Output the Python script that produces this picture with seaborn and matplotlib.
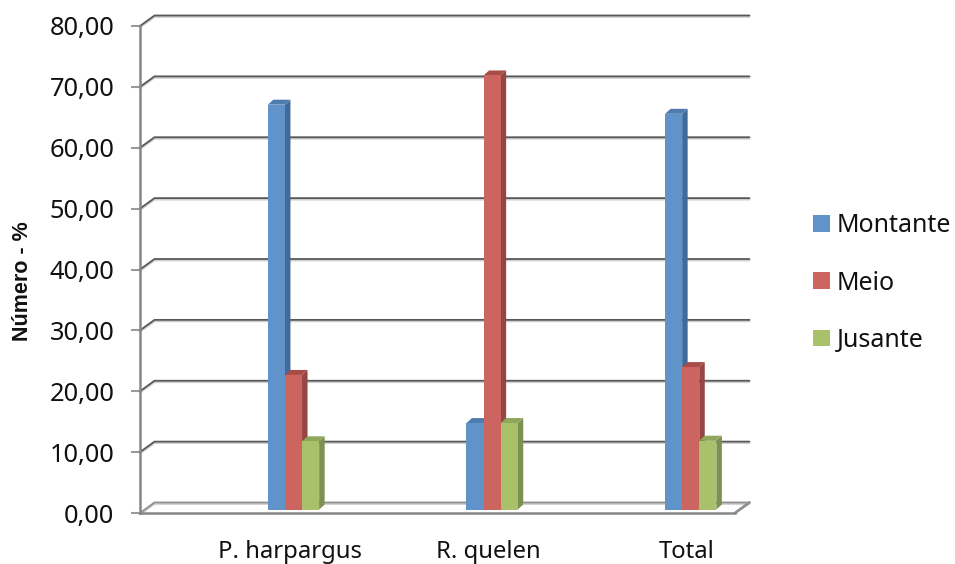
import pandas as pd
import matplotlib
matplotlib.use("Agg")
import matplotlib.pyplot as plt
from matplotlib.patches import Polygon
from matplotlib.transforms import ScaledTranslation
import seaborn as sns

# --- data ---
species = ['P. harpargus', 'R. quelen', 'Total']
zones = ['Montante', 'Meio', 'Jusante']
montante = [66.5, 14.2, 65.0]
meio = [22.1, 71.3, 23.4]
jusante = [11.2, 14.2, 11.3]
y_ticks = [0, 10, 20, 30, 40, 50, 60, 70, 80]

# front, side, top shades per series
FRONT = ['#5F93C9', '#CC6560', '#A9C16B']
SIDE = ['#3F6A9A', '#954543', '#7C9150']
TOP = ['#4F7CAF', '#A84C48', '#8FA75A']

W, H = 955, 564
X0, X1 = 140, 735      # front of the floor, px
Y0, Y80 = 513, 26      # value 0 and value 80, px
GROUP0, GROUP_STEP = 293.5, 198.6

sns.set_style('white')
plt.rcParams['font.family'] = ['Noto Sans', 'DejaVu Sans']

df = pd.DataFrame({
    'especie': species * 3,
    'zona': [z for z in zones for _ in species],
    'valor': montante + meio + jusante,
})

fig = plt.figure(figsize=(W / 100, H / 100), dpi=100)
ax = fig.add_axes([X0 / W, 1 - Y0 / H, (X1 - X0) / W, (Y0 - Y80) / H])
sns.barplot(data=df, x='especie', y='valor', hue='zona', hue_order=zones,
            order=species, palette=FRONT, width=51.3 / GROUP_STEP, gap=0,
            saturation=1, errorbar=None, linewidth=0, ax=ax)

xmin = -(GROUP0 - X0) / GROUP_STEP
xmax = (X1 - GROUP0) / GROUP_STEP
ax.set_xlim(xmin, xmax)
ax.set_ylim(0, 80)
px_y = 80 / (Y0 - Y80)
px_x = 1 / GROUP_STEP

# back wall and floor of the 3D box
wall_dx, wall_dy = 14.5 * px_x, 10.5 * px_y
for v in y_ticks:
    line_col = '#8f8f8f' if v == 0 else '#585858'
    xs = [xmin, xmin + wall_dx, xmax + wall_dx]
    ys = [v, v + wall_dy, v + wall_dy]
    ax.plot(xs, [y - 1.5 * px_y for y in ys], color='#cfcfcf', lw=1.3, clip_on=False, zorder=1)
    ax.plot(xs, ys, color=line_col, lw=1.3, clip_on=False, zorder=1.5)
ax.plot([xmax, xmax + wall_dx], [0, wall_dy], color='#8f8f8f', lw=2, clip_on=False, zorder=1.5)

# bars sit a bit behind the front edge, with side and top faces
lift = 3.5 * px_y
bar_dx, bar_dy = 5.5 * px_x, 5 * px_y
for i, cont in enumerate(ax.containers):
    for p in cont:
        p.set_y(lift)
        p.set_zorder(4 + i)
        x0, x1 = p.get_x(), p.get_x() + p.get_width()
        top = lift + p.get_height()
        ax.add_patch(Polygon([(x1, lift), (x1 + bar_dx, lift + bar_dy), (x1 + bar_dx, top + bar_dy), (x1, top)],
                             fc=SIDE[i], ec='none', clip_on=False, zorder=3.5 + i))
        ax.add_patch(Polygon([(x0, top), (x0 + bar_dx, top + bar_dy), (x1 + bar_dx, top + bar_dy), (x1, top)],
                             fc=TOP[i], ec='none', clip_on=False, zorder=3.5 + i))

for s in ['top', 'right']:
    ax.spines[s].set_visible(False)
for s in ['left', 'bottom']:
    ax.spines[s].set_color('#868686')
    ax.spines[s].set_linewidth(1.8)
    ax.spines[s].set_zorder(2)

ax.set_yticks(y_ticks)
ax.set_yticklabels([f'{v:.2f}'.replace('.', ',') for v in y_ticks], fontsize=18.3, color='#111111')
ax.tick_params(axis='y', left=True, length=6.5, width=1.5, color='#9a9a9a', pad=12)
ax.tick_params(axis='x', bottom=False, pad=16)
ax.set_xlabel('')
ax.set_ylabel('')
shift = ScaledTranslation(-4 / 100, 0, fig.dpi_scale_trans)
for lab in ax.get_xticklabels():
    lab.set_fontsize(17.2)
    lab.set_color('#111111')
    lab.set_transform(lab.get_transform() + shift)

fig.text(22 / W, 1 - 281 / H, 'Número - %', rotation=90, fontsize=15.5, fontweight='bold',
         family=['Liberation Sans', 'DejaVu Sans'], ha='center', va='center', color='#111111')

ax.legend_.remove()
handles = [plt.Rectangle((0, 0), 1, 1, fc=c, ec='none') for c in FRONT]
fig.legend(handles, zones, loc='center left', bbox_to_anchor=(793 / W, 1 - 283 / H),
           frameon=False, fontsize=18, handlelength=0.66, handleheight=0.66,
           handletextpad=0.28, labelspacing=1.29, labelcolor='#111111', borderpad=0.3)

fig.savefig('out.png', dpi=100)
